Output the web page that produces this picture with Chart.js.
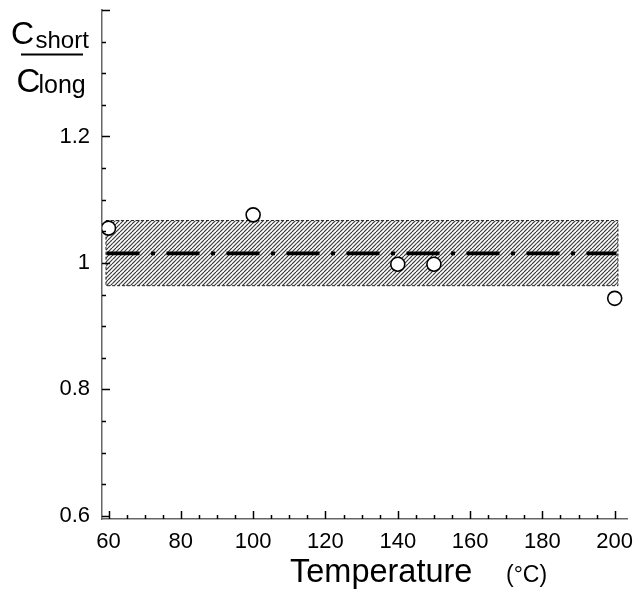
<!DOCTYPE html>
<html>
<head>
<meta charset="utf-8">
<script src="https://cdn.jsdelivr.net/npm/chart.js@4"></script>
<style>
  html, body { margin: 0; padding: 0; background: #fff; }
  #wrap { position: relative; width: 636px; height: 591px; }
</style>
</head>
<body>
<div id="wrap"><canvas id="c"></canvas></div>
<script>
// ---- data ----
const temperatures = [60, 100, 140, 150, 200];
const ratios = [1.055, 1.076, 0.998, 0.998, 0.944];
const bandX = [59.3, 200.9];
const bandUpper = 1.067;
const bandLower = 0.964;
const meanX = [59.45, 200.5];
const meanValue = 1.015;
const xTickValues = [60, 80, 100, 120, 140, 160, 180, 200];
const xTickLabels = ['60', '80', '100', '120', '140', '160', '180', '200'];
const yTickValues = [0.6, 0.8, 1.0, 1.2];
const yTickLabels = ['0.6', '0.8', '1', '1.2'];
const xTitle = 'Temperature';
const xUnit = '(°C)';

const FONT = '"Liberation Sans", Arial, sans-serif';

// hatch pattern
function makeHatch() {
  const t = document.createElement('canvas');
  t.width = 8; t.height = 8;
  const g = t.getContext('2d');
  g.fillStyle = '#fff';
  g.fillRect(0, 0, 8, 8);
  g.strokeStyle = '#3a3a3a';
  g.lineWidth = 1.2;
  for (const c of [-4, 0, 4, 8, 12, 16, 20]) {
    g.beginPath();
    g.moveTo(c, 0);
    g.lineTo(c - 8, 8);
    g.stroke();
  }
  return g.createPattern(t, 'repeat');
}
const hatch = makeHatch();

const points = temperatures.map((t, i) => ({ x: t, y: ratios[i] }));
const bandShape = [
  { x: bandX[0], y: bandUpper }, { x: bandX[1], y: bandUpper },
  { x: bandX[1], y: bandLower }, { x: bandX[0], y: bandLower },
  { x: bandX[0], y: bandUpper }
];
const meanLine = meanX.map(x => ({ x: x, y: meanValue }));

const decor = {
  id: 'decor',
  afterDraw(chart) {
    const ctx = chart.ctx;
    const xs = chart.scales.x, ys = chart.scales.y;
    const area = chart.chartArea;
    ctx.save();
    ctx.strokeStyle = '#000';
    ctx.lineWidth = 1.5;
    // y ticks inside the plot
    for (let i = 0; i <= 16; i++) {
      const v = 0.6 + i * 0.05;
      const py = Math.round(ys.getPixelForValue(v)) + 0.5;
      const len = (i % 4 === 0) ? 8 : 4;
      ctx.beginPath();
      ctx.moveTo(area.left, py);
      ctx.lineTo(area.left + len, py);
      ctx.stroke();
    }
    // x ticks inside the plot
    for (let i = 0; i <= 28; i++) {
      const v = 60 + i * 5;
      const px = Math.round(xs.getPixelForValue(v)) + 0.5;
      const len = (i % 4 === 0) ? 8 : 4;
      ctx.beginPath();
      ctx.moveTo(px, area.bottom);
      ctx.lineTo(px, area.bottom - len);
      ctx.stroke();
    }
    // y title (fraction)
    ctx.fillStyle = '#000';
    ctx.textBaseline = 'alphabetic';
    ctx.textAlign = 'left';
    ctx.font = '32px ' + FONT;
    ctx.fillText('C', 11, 44);
    ctx.font = '33px ' + FONT;
    ctx.fillText('C', 16.5, 91.5);
    ctx.font = '24px ' + FONT;
    ctx.fillText('short', 35.5, 47.7);
    ctx.font = '25px ' + FONT;
    ctx.fillText('long', 38.5, 92.5);
    ctx.lineWidth = 2.2;
    ctx.beginPath();
    ctx.moveTo(21, 54.5);
    ctx.lineTo(83, 54.5);
    ctx.stroke();
    // x title
    ctx.font = '32.5px ' + FONT;
    ctx.fillText(xTitle, 290, 582);
    ctx.font = '23px ' + FONT;
    ctx.fillText(xUnit, 506, 582);
    ctx.restore();
  }
};

new Chart(document.getElementById('c'), {
  type: 'scatter',
  data: {
    datasets: [
      {
        data: points,
        pointStyle: 'circle',
        pointRadius: 7,
        pointBorderWidth: 1.6,
        pointBackgroundColor: '#fff',
        pointBorderColor: '#000',
        showLine: false
      },
      {
        data: meanLine,
        showLine: true,
        borderColor: '#000',
        borderWidth: 3.8,
        borderDash: [33, 11.5, 4, 11.5],
        borderCapStyle: 'butt',
        pointRadius: 0,
        fill: false
      },
      {
        data: bandShape,
        showLine: true,
        borderColor: '#222',
        borderWidth: 1,
        borderDash: [3, 2],
        pointRadius: 0,
        backgroundColor: hatch,
        fill: 'shape',
        tension: 0
      }
    ]
  },
  options: {
    responsive: true,
    maintainAspectRatio: false,
    animation: false,
    events: [],
    layout: { padding: { top: 10, right: 9, left: 0, bottom: 0 } },
    plugins: {
      legend: { display: false },
      tooltip: { enabled: false },
      title: { display: false }
    },
    scales: {
      x: {
        type: 'linear',
        min: 58.2,
        max: 203.4,
        grid: { display: false, drawTicks: false },
        border: { display: true, color: '#666', width: 1.5 },
        ticks: {
          color: '#000',
          font: { family: FONT, size: 22 },
          padding: 10,
          maxRotation: 0,
          autoSkip: false,
          callback: (v, i) => xTickLabels[i]
        },
        afterBuildTicks: (s) => { s.ticks = xTickValues.map(v => ({ value: v })); },
        afterFit: (s) => { s.height = 72; s.paddingLeft = 0; s.paddingRight = 0; }
      },
      y: {
        type: 'linear',
        min: 0.595,
        max: 1.4,
        grid: { display: false, drawTicks: false },
        border: { display: true, color: '#666', width: 1.5 },
        ticks: {
          color: '#000',
          font: { family: FONT, size: 22 },
          padding: 12,
          autoSkip: false,
          callback: (v, i) => yTickLabels[i]
        },
        afterBuildTicks: (s) => { s.ticks = yTickValues.map(v => ({ value: v })); },
        afterFit: (s) => { s.width = 102; s.paddingTop = 0; s.paddingBottom = 0; }
      }
    }
  },
  plugins: [decor]
});
</script>
</body>
</html>
